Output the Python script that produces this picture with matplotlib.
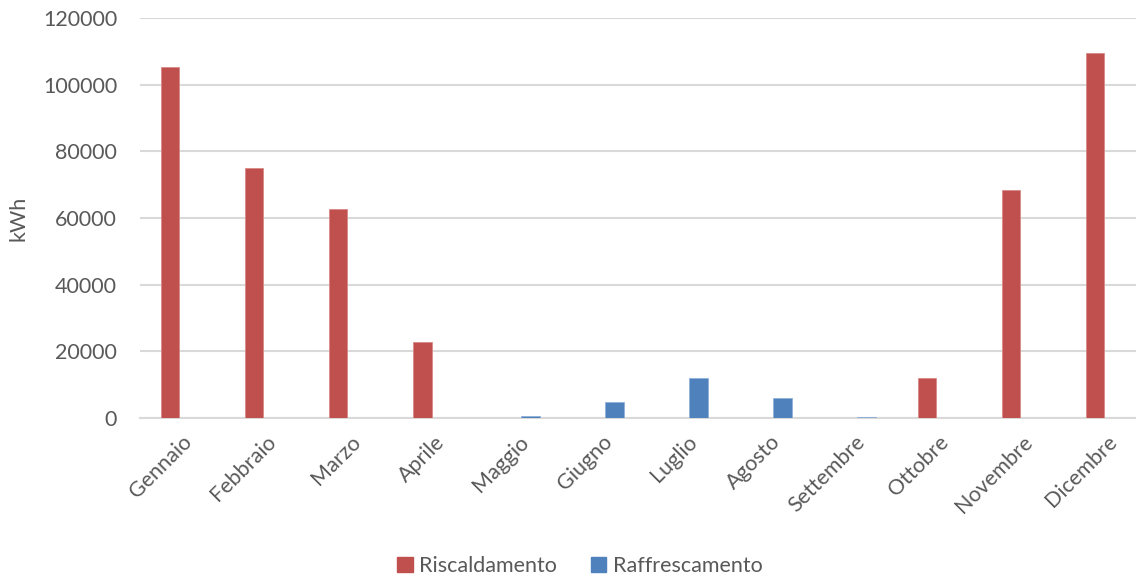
import numpy as np
import matplotlib.pyplot as plt
import matplotlib.patches as mpatches

MONTHS = ["Gennaio", "Febbraio", "Marzo", "Aprile", "Maggio", "Giugno",
          "Luglio", "Agosto", "Settembre", "Ottobre", "Novembre", "Dicembre"]
RISCALDAMENTO = [105200, 75000, 62700, 22800, 0, 0,
                 0, 0, 0, 12000, 68400, 109400]
RAFFRESCAMENTO = [0, 0, 0, 0, 600, 4900,
                  11900, 6100, 300, 0, 0, 0]
Y_TICKS = [0, 20000, 40000, 60000, 80000, 100000, 120000]

RED = "#C0504D"
BLUE = "#4F81BD"
GREY_TXT = "#595959"
GRID = "#D9D9D9"
FS = 15.5

plt.rcParams["font.family"] = ["Lato", "DejaVu Sans"]

W, H = 1136, 579
fig = plt.figure(figsize=(W / 100, H / 100), dpi=100)
# plot area runs past the right edge of the canvas
ax = fig.add_axes([140 / W, (H - 418) / H, 1009 / W, 400 / H])

x = np.arange(len(MONTHS))
bw = 0.22
off = 0.143
ax.bar(x - off, RISCALDAMENTO, width=bw, color=RED, edgecolor="#D98A88",
       linewidth=0.6, zorder=3)
ax.bar(x + off, RAFFRESCAMENTO, width=bw, color=BLUE, edgecolor="#8FB0D8",
       linewidth=0.6, zorder=3)

ax.set_xlim(-0.5, len(MONTHS) - 0.5)
ax.set_ylim(0, 120000)
ax.set_yticks(Y_TICKS)
ax.set_yticklabels([str(v) for v in Y_TICKS])
ax.yaxis.grid(True, color=GRID, linewidth=1.5, zorder=0)
ax.set_axisbelow(True)

ax.set_xticks(x)
ax.set_xticklabels(MONTHS, rotation=45, ha="right", rotation_mode="anchor")
ax.tick_params(axis="both", length=0, labelsize=FS, labelcolor=GREY_TXT)
ax.tick_params(axis="y", pad=16.5)
ax.tick_params(axis="x", pad=10)

for s in ["top", "right", "left"]:
    ax.spines[s].set_visible(False)
ax.spines["bottom"].set_color(GRID)
ax.spines["bottom"].set_linewidth(1.5)

fig.text(18 / W, (H - 218) / H, "kWh", rotation=90, ha="center", va="center",
         fontsize=FS, color=GREY_TXT)

handles = [mpatches.Patch(color=RED, label="Riscaldamento"),
           mpatches.Patch(color=BLUE, label="Raffrescamento")]
fig.legend(handles=handles, loc="center", bbox_to_anchor=(580 / W, (H - 566) / H),
           ncol=2, frameon=False, fontsize=FS, labelcolor=GREY_TXT,
           handlelength=0.7, handleheight=0.7, handletextpad=0.3, columnspacing=1.6)

fig.savefig("out.png", dpi=100)
